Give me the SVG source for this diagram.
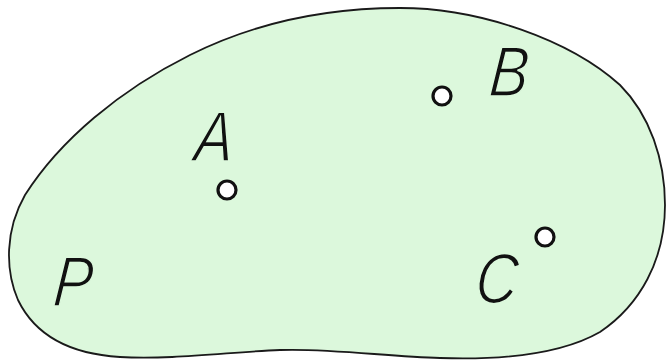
<svg xmlns="http://www.w3.org/2000/svg" width="666" height="361" viewBox="0 0 666 361">
<style>
.region{fill:#dcf8dc;stroke:#1a1a1a;stroke-width:1.8}
.pt{fill:#ffffff;stroke:#111;stroke-width:3.2}
.lbl{font-family:"Liberation Sans",Arial,sans-serif;font-style:italic;font-size:71px;fill:#111;stroke:#dcf8dc;stroke-width:1.6}
</style>
<rect width="666" height="361" fill="#ffffff"/>
<g id="plane">
<path class="region" d="M 400 8 C 480 8, 570 40, 620 85 C 650 115, 665 160, 665 205 C 665 260, 640 305, 600 332 C 560 355, 500 360, 440 358 C 390 357, 330 348, 280 350 C 230 352, 170 360, 120 357 C 70 354, 35 335, 18 300 C 5 270, 5 230, 25 195 C 60 140, 120 90, 190 55 C 250 25, 320 8, 400 8 Z"/>
<text class="lbl" transform="translate(52,306) skewX(-5) scale(0.82,1)">P</text>
</g>
<g id="A">
<circle class="pt" cx="227" cy="190" r="9"/>
<text class="lbl" transform="translate(193,161) skewX(-5) scale(0.82,1)">A</text>
</g>
<g id="B">
<circle class="pt" cx="442" cy="96" r="9"/>
<text class="lbl" transform="translate(488,96) skewX(-5) scale(0.82,1)">B</text>
</g>
<g id="C">
<circle class="pt" cx="545" cy="237" r="9"/>
<text class="lbl" transform="translate(474,303) skewX(-5) scale(0.82,1)">C</text>
</g>
</svg>
